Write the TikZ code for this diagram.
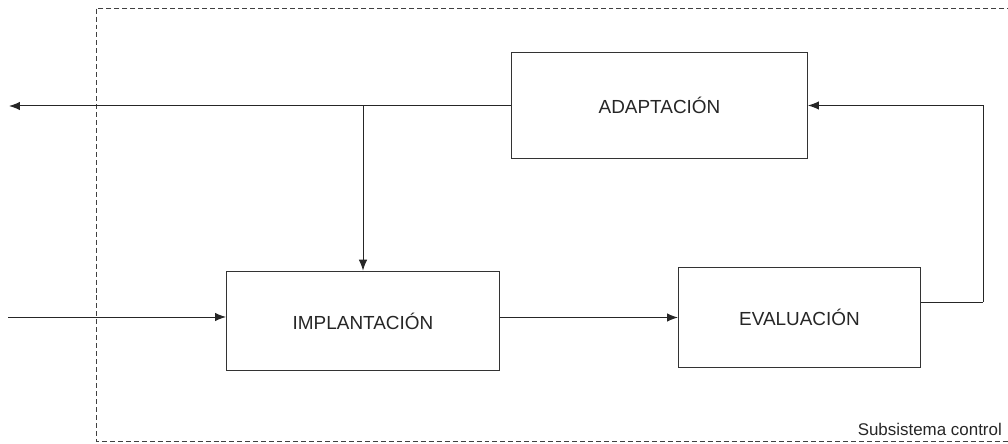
\documentclass[tikz,border=0pt]{standalone}
\usepackage{fontspec}
\setmainfont{Liberation Sans}
\usetikzlibrary{arrows.meta}

\tikzset{
  bloque/.style={draw=black!80, line width=1pt, fill=white, inner sep=0pt,
    font=\fontsize{19}{22}\selectfont, text=black!85},
  flecha/.style={draw=black!85, line width=1pt, -{Latex[length=11pt,width=8.5pt]}},
  linea/.style={draw=black!85, line width=1pt},
  marco/.style={draw=black!75, line width=0.9pt, dash pattern=on 5pt off 3pt}
}

\begin{document}
\begin{tikzpicture}[x=1bp, y=-1bp]
  % fix the page size
  \useasboundingbox (0,0) rectangle (1008,444);

  % Draw the dashed frame of the subsystem
  \draw[marco] (1012,8) -- (96,8) -- (96,441) -- (1012,441);
  % Add the text "Subsistema control"
  \node[anchor=base east, font=\fontsize{17}{20}\selectfont, text=black!85, inner sep=0pt]
    (sub) at (1002,435) {Subsistema control};

  % Draw the three blocks
  \node[bloque, minimum width=297, minimum height=107] (adapt) at (659.5,105.5) {ADAPTACIÓN};
  \node[bloque, minimum width=274, minimum height=100] (impl) at (363,321) {IMPLANTACIÓN};
  \node[bloque, minimum width=243, minimum height=101] (eval) at (799.5,317.5) {EVALUACIÓN};

  % Free ends of the outer arrows
  \coordinate (salida) at (9,106);
  \coordinate (entrada) at (8,317);
  \coordinate (codo) at (983,302);
  \coordinate (rama) at (impl.north |- salida);

  % Draw the output arrow and the branch down to the first block
  \draw[flecha] (adapt.west |- salida) -- (salida);
  \draw[flecha] (rama) -- (impl.north);

  % Draw the input arrow and the arrow between the lower blocks
  \draw[flecha] (entrada) -- (impl.west |- entrada);
  \draw[flecha] (impl.east |- eval.west) -- (eval.west);

  % Draw the feedback line back to the top block
  \draw[linea] (eval.east |- codo) -- (codo);
  \draw[flecha] (codo) |- (adapt.east);
\end{tikzpicture}
\end{document}
